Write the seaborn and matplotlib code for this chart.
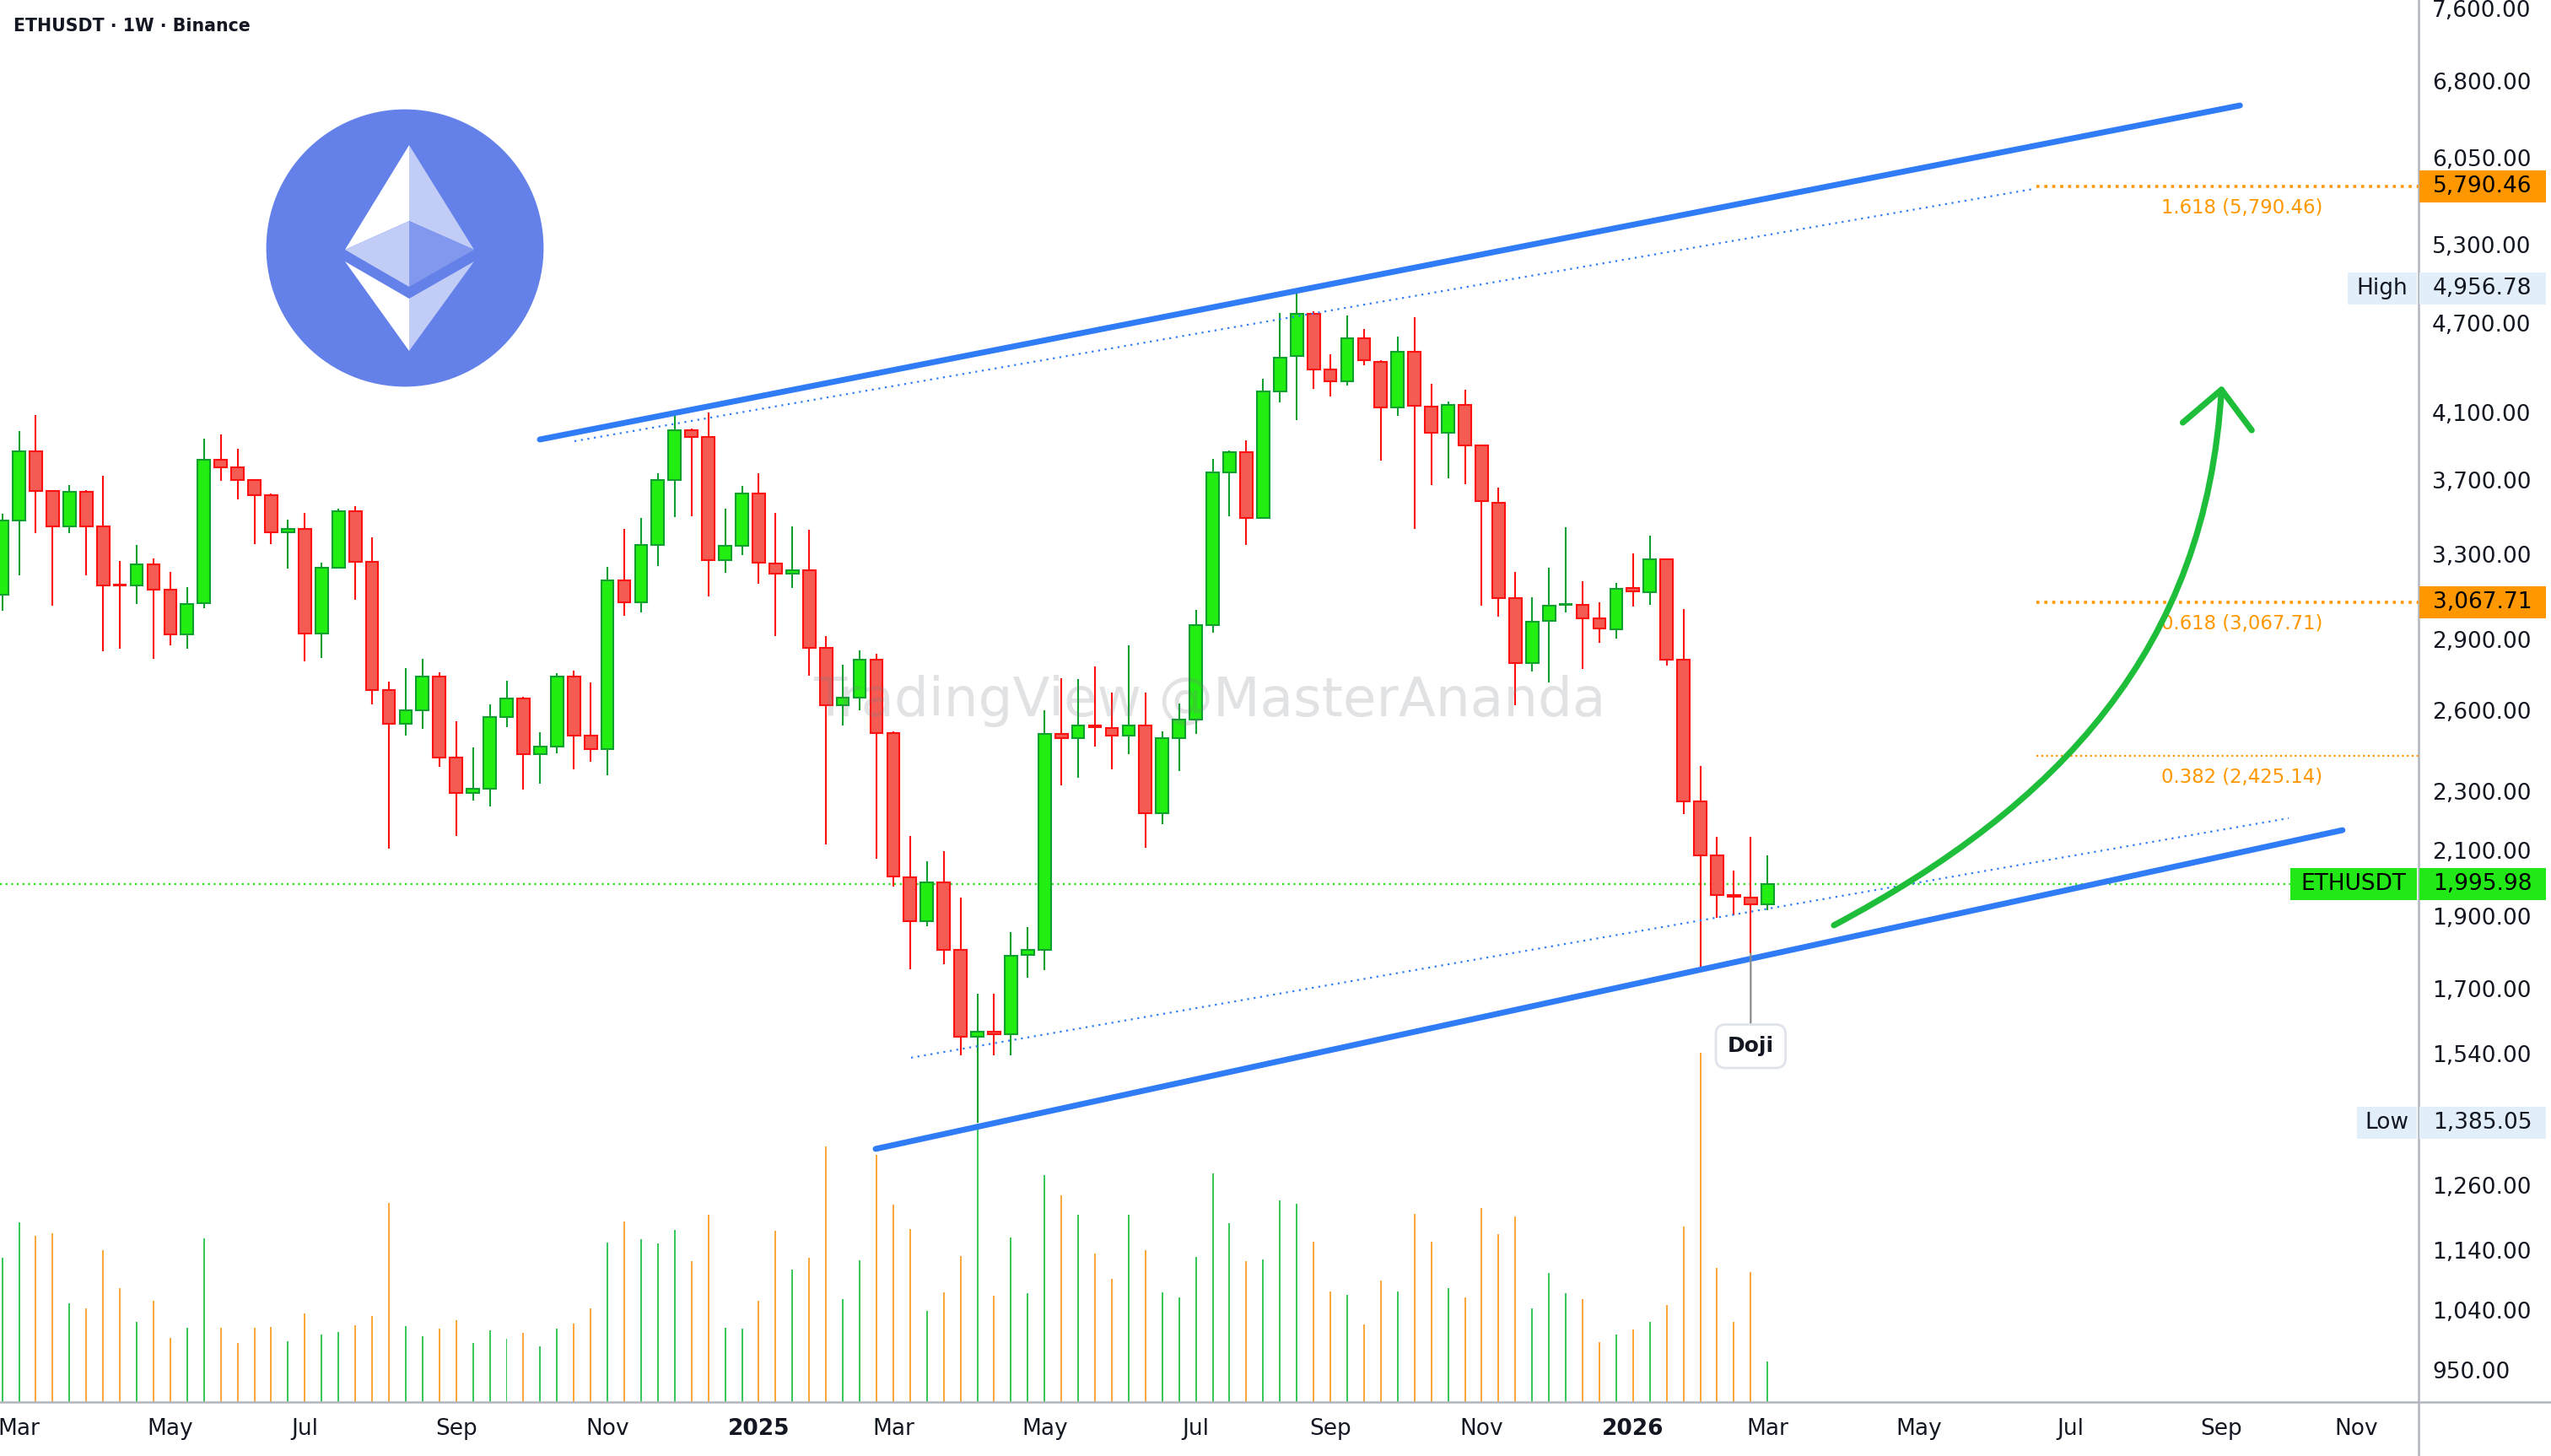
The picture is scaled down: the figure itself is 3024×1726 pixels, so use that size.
import numpy as np
import pandas as pd
import matplotlib
matplotlib.use("Agg")
import matplotlib.pyplot as plt
import seaborn as sns
from matplotlib.patches import Circle, Polygon, Rectangle, PathPatch
from matplotlib.path import Path
from matplotlib.lines import Line2D
from matplotlib.ticker import FixedLocator, FuncFormatter, NullLocator

# ETHUSDT weekly candles, week 0 = 2024-02-26 ... week 105 = 2026-03-02
opens = [3103, 3477, 3864, 3635, 3445, 3633, 3445, 3151, 3147, 3252,
         3127, 2920, 3063, 3815, 3770, 3696, 3614, 3413, 3430, 2925,
         3236, 3524, 3263, 2683, 2547, 2602, 2738, 2421, 2292, 2308,
         2574, 2650, 2432, 2462, 2738, 2502, 2451, 3174, 3068, 3350,
         3696, 3992, 3950, 3272, 3346, 3624, 3257, 3204, 3223, 2860,
         2621, 2653, 2810, 2511, 2015, 1884, 1999, 1804, 1580, 1593,
         1585, 1790, 1805, 2508, 2493, 2543, 2531, 2503, 2540, 2223,
         2492, 2563, 2961, 3742, 3860, 3489, 4235, 4467, 4767, 4376,
         4298, 4590, 4431, 4132, 4500, 4138, 3975, 4145, 3898, 3573,
         3087, 2797, 2982, 3056, 3054, 2992, 2945, 3135, 3117, 3275,
         2809, 2264, 2084, 1961, 1954, 1935]
highs = [3513, 3984, 4083, 3640, 3669, 3640, 3722, 3266, 3348, 3279,
         3212, 3140, 3937, 3965, 3880, 3700, 3624, 3479, 3515, 3258,
         3540, 3554, 3388, 2716, 2773, 2815, 2755, 2559, 2459, 2625,
         2721, 2655, 2516, 2754, 2763, 2715, 3237, 3431, 3490, 3736,
         4077, 4000, 4101, 3539, 3665, 3735, 3516, 3445, 3426, 2913,
         2789, 2850, 2834, 2518, 2147, 2065, 2097, 1953, 1686, 1688,
         1854, 1869, 2602, 2731, 2728, 2782, 2673, 2873, 2673, 2518,
         2629, 3032, 3817, 3868, 3930, 4319, 4775, 4956.78, 4787, 4482,
         4755, 4658, 4438, 4605, 4743, 4284, 4169, 4245, 3904, 3653,
         3213, 3091, 3234, 3440, 3169, 3069, 3161, 3304, 3396, 3280,
         3037, 2389, 2143, 2035, 2144, 2085]
lows = [3030, 3196, 3408, 3050, 3411, 3196, 2845, 2859, 3060, 2813,
        2874, 2856, 3042, 3695, 3592, 3354, 3351, 3231, 2804, 2816,
        3228, 3080, 2626, 2107, 2504, 2530, 2386, 2146, 2267, 2247,
        2534, 2304, 2326, 2437, 2378, 2406, 2354, 3006, 3022, 3244,
        3493, 3500, 3096, 3210, 3296, 3154, 2915, 3137, 2744, 2120,
        2543, 2600, 2074, 1987, 1752, 1870, 1766, 1535, 1385.05, 1535,
        1535, 1730, 1750, 2318, 2345, 2462, 2378, 2434, 2108, 2185,
        2370, 2508, 2928, 3497, 3348, 3486, 4162, 4051, 4249, 4203,
        4270, 4409, 3809, 4078, 3432, 3668, 3707, 3674, 3051, 3002,
        2622, 2761, 2714, 3019, 2770, 2883, 2904, 3049, 3055, 2784,
        2219, 1748, 1894, 1903, 1794, 1917]
closes = [3477, 3864, 3635, 3445, 3633, 3445, 3149, 3147, 3252, 3127,
          2920, 3060, 3815, 3770, 3696, 3614, 3413, 3430, 2925, 3236,
          3524, 3263, 2683, 2547, 2602, 2738, 2421, 2292, 2308, 2574,
          2650, 2432, 2462, 2738, 2502, 2451, 3174, 3068, 3350, 3696,
          3992, 3951, 3272, 3346, 3624, 3259, 3204, 3223, 2862, 2621,
          2653, 2810, 2513, 2018, 1884, 1999, 1805, 1580, 1593, 1585,
          1787, 1803, 2508, 2493, 2543, 2535, 2503, 2540, 2223, 2492,
          2563, 2961, 3742, 3860, 3489, 4235, 4460, 4767, 4380, 4298,
          4590, 4438, 4132, 4500, 4142, 3975, 4145, 3901, 3579, 3089,
          2797, 2980, 3051, 3059, 2994, 2946, 3133, 3119, 3275, 2811,
          2264, 2084, 1961, 1957, 1935, 1995.98]
# weekly volume, thousand ETH
volumes = [3420, 4260, 3940, 4000, 2340, 2220, 3600, 2700, 1900, 2400,
           1520, 1760, 3880, 1760, 1400, 1760, 1780, 1440, 2100, 1600,
           1660, 1820, 2040, 4720, 1800, 1560, 1740, 1940, 1400, 1700,
           1500, 1640, 1320, 1740, 1860, 2220, 3780, 4280, 3860, 3760,
           4080, 3340, 4440, 1760, 1740, 2400, 4060, 3140, 3420, 6060,
           2440, 3360, 5860, 4680, 4100, 2160, 2600, 3460, 6600, 2520,
           3900, 2580, 5380, 4900, 4440, 3520, 2920, 4440, 3600, 2600,
           2480, 3440, 5420, 4240, 3340, 3380, 4780, 4700, 3800, 2620,
           2540, 1840, 2880, 2620, 4460, 3800, 2700, 2480, 4600, 3980,
           4400, 2220, 3060, 2580, 2440, 1420, 1600, 1720, 1900, 2300,
           4160, 8280, 3180, 1900, 3080, 960]

month_weeks = [1, 10, 18, 27, 36, 45, 53, 62, 71, 79, 88, 97, 105, 114, 123, 132, 140]
month_labels = ["Mar", "May", "Jul", "Sep", "Nov", "2025", "Mar", "May", "Jul", "Sep",
                "Nov", "2026", "Mar", "May", "Jul", "Sep", "Nov"]
price_ticks = [7600, 6800, 6050, 5300, 4700, 4100, 3700, 3300, 2900, 2600, 2300,
               2100, 1900, 1700, 1540, 1260, 1140, 1040, 950]

fib_levels = [1.618, 0.618, 0.382]
fib_prices = [5790.46, 3067.71, 2425.14]
fib_start_week = 121

# channel drawings: (week, price) end points
upper_line = ([31.98, 133.1], [3934, 6553])
lower_line = ([51.95, 139.2], [1331, 2166])
upper_dots = ([34.04, 120.8], [3924, 5768])
lower_dots = ([54.06, 136.0], [1530, 2206])
# projected move, cubic curve (start, two controls, tip) and head
arrow_weeks = [108.95, 122.3, 131.1, 132.0]
arrow_prices = [1873, 2249, 2854, 4245]
head_weeks = [129.7, 132.0, 133.8]
head_prices = [4037, 4245, 3990]

# colours
FILL_UP, EDGE_UP = "#22EE11", "#0E9F2E"
FILL_DN, EDGE_DN = "#F45B52", "#FF1010"
VOL_UP, VOL_DN = "#38C95A", "#F9A73E"
BLUE = "#2F7CF6"
ORANGE = "#FF9800"
ARROW_GREEN = "#1EBE3A"
PRICE_GREEN = "#21E816"
TAG_BLUE = "#E3EEFB"
TEXT = "#131722"
AXIS_GRAY = "#B2B5BE"

W, H, DPI = 3024, 1726, 200
PLOT_R, PLOT_B = 2867, 1662
PX_PER_LN = 776.0

sns.set_theme(style="white")
plt.rcParams["font.family"] = ["DejaVu Sans"]

opens, highs, lows, closes = map(np.array, (opens, highs, lows, closes))
weeks = np.arange(len(opens))
up = closes >= opens

fig = plt.figure(figsize=(W / DPI, H / DPI), dpi=DPI)
fig.patch.set_facecolor("white")
ax = fig.add_axes([0, 1 - PLOT_B / H, PLOT_R / W, PLOT_B / H])

# volume in its own overlay (linear), drawn underneath the candles
axv = ax.twinx()
vol_df = pd.DataFrame({"week": weeks, "volume": volumes,
                       "dir": np.where(up, "up", "down")})
sns.barplot(data=vol_df, x="week", y="volume", hue="dir",
            palette={"up": VOL_UP, "down": VOL_DN}, native_scale=True,
            width=0.1, dodge=False, saturation=1, linewidth=0,
            errorbar=None, legend=False, ax=axv)
axv.set_ylim(0, PLOT_B * 20)
axv.set_yticks([])
axv.set_ylabel("")
axv.set_xlabel("")
ax.set_zorder(2)
axv.set_zorder(1)
ax.patch.set_visible(False)

# candles
ax.vlines(weeks, lows, highs, colors=np.where(up, EDGE_UP, EDGE_DN), lw=0.75, zorder=3)
body_lo = np.minimum(opens, closes)
body_hi = np.maximum(opens, closes)
ax.bar(weeks, body_hi - body_lo, bottom=body_lo, width=0.74,
       color=np.where(up, FILL_UP, FILL_DN), edgecolor=np.where(up, EDGE_UP, EDGE_DN),
       linewidth=0.75, zorder=4)

ax.set_yscale("log")
top = 7600 * np.exp(10 / PX_PER_LN)
ax.set_ylim(top * np.exp(-PLOT_B / PX_PER_LN), top)
ax.set_xlim(-2.6 / 19.93, (PLOT_R - 2.6) / 19.93)

# price scale on the right
ax.yaxis.tick_right()
ax.yaxis.set_major_locator(FixedLocator(price_ticks))
ax.yaxis.set_minor_locator(NullLocator())
ax.yaxis.set_major_formatter(FuncFormatter(lambda v, _: f"{v:,.2f}"))
ax.tick_params(axis="y", which="both", length=0, pad=5.8, labelsize=9.5, labelcolor=TEXT)
ax.set_xticks(month_weeks)
ax.set_xticklabels(month_labels)
ax.tick_params(axis="x", length=0, pad=7, labelsize=9.5, labelcolor=TEXT)
for lab in ax.get_xticklabels():
    if lab.get_text().isdigit():
        lab.set_fontweight("bold")
ax.grid(False)
sns.despine(ax=ax, left=True, bottom=True, right=True, top=True)
sns.despine(ax=axv, left=True, bottom=True, right=True, top=True)

# last price line
ax.axhline(closes[-1], color=PRICE_GREEN, lw=0.8, ls=(0, (1, 2)), zorder=2)

# channel
for xs, ps in (upper_line, lower_line):
    ax.plot(xs, ps, color=BLUE, lw=2.5, solid_capstyle="round", zorder=6)
for xs, ps in (upper_dots, lower_dots):
    ax.plot(xs, ps, color=BLUE, lw=0.8, ls=(0, (1, 2.5)), zorder=5)

# fib levels
x_right = ax.get_xlim()[1]
for lvl, p, lw in zip(fib_levels, fib_prices, [1.3, 1.3, 0.8]):
    ax.hlines(p, fib_start_week, x_right, color=ORANGE, lw=lw, ls=(0, (1, 1.6)), zorder=5)
    ax.annotate(f"{lvl:.3f} ({p:,.2f})", xy=(133.2, p), xytext=(0, -9.2),
                textcoords="offset points", ha="center", va="center",
                color=ORANGE, fontsize=8.2, zorder=6)

# projected curve
curve = Path(np.column_stack([arrow_weeks, arrow_prices]),
             [Path.MOVETO, Path.CURVE4, Path.CURVE4, Path.CURVE4])
ax.add_patch(PathPatch(curve, fc="none", ec=ARROW_GREEN, lw=2.6, capstyle="round", zorder=7))
ax.plot(head_weeks, head_prices, color=ARROW_GREEN, lw=2.6,
        solid_capstyle="round", solid_joinstyle="round", zorder=7)

# doji callout
ax.annotate("Doji", xy=(104, lows[104]), xytext=(104, 1557), ha="center", va="center",
            fontsize=9, fontweight="bold", color=TEXT,
            bbox=dict(boxstyle="round,pad=0.55,rounding_size=0.45", fc="white", ec="#E0E3EB", lw=1),
            arrowprops=dict(arrowstyle="-", color="#8A8A8A", lw=0.8, shrinkA=0, shrinkB=0),
            zorder=8)

# watermark
ax.text(0.5, 0.5, "TradingView @MasterAnanda", transform=ax.transAxes, ha="center",
        va="center", fontsize=23.2, color="#787B86", alpha=0.22, zorder=9)

# axis borders
fig.add_artist(Line2D([PLOT_R / W] * 2, [0, 1], transform=fig.transFigure, color=AXIS_GRAY, lw=0.9))
fig.add_artist(Line2D([0, 1], [1 - PLOT_B / H] * 2, transform=fig.transFigure, color=AXIS_GRAY, lw=0.9))

# price tags on the scale
pax = fig.add_axes([2700 / W, 1 - PLOT_B / H, 324 / W, PLOT_B / H], sharey=ax, zorder=5)
pax.set_xlim(2700, W)
pax.axis("off")
half = np.exp(19 / PX_PER_LN)


def tag(price, x0, x1, fc, text, color, centered=False):
    pax.add_patch(Rectangle((x0, price / half), x1 - x0, price * half - price / half,
                            fc=fc, ec="none", clip_on=False))
    if centered:
        pax.text((x0 + x1) / 2, price, text, ha="center", va="center",
                 fontsize=9.5, color=color, clip_on=False)
    else:
        pax.text(2884, price, text, ha="left", va="center", fontsize=9.5,
                 color=color, clip_on=False)


tag(fib_prices[0], 2868, 3018, ORANGE, f"{fib_prices[0]:,.2f}", "black")
tag(fib_prices[1], 2868, 3018, ORANGE, f"{fib_prices[1]:,.2f}", "black")
tag(max(highs), 2783, 2865, TAG_BLUE, "High", TEXT, centered=True)
tag(max(highs), 2868, 3018, TAG_BLUE, f"{max(highs):,.2f}", TEXT)
tag(closes[-1], 2715, 2865, PRICE_GREEN, "ETHUSDT", "black", centered=True)
tag(closes[-1], 2868, 3018, PRICE_GREEN, f"{closes[-1]:,.2f}", "black")
tag(min(lows), 2794, 2865, TAG_BLUE, "Low", TEXT, centered=True)
tag(min(lows), 2868, 3018, TAG_BLUE, f"{min(lows):,.2f}", TEXT)

# header and coin logo (pixel layout)
fig.text(16 / W, 1 - 31 / H, "ETHUSDT · 1W · Binance", ha="left", va="center",
         fontsize=7.4, fontweight="bold", color=TEXT)
lax = fig.add_axes([0, 0, 1, 1], zorder=6)
lax.set_xlim(0, W)
lax.set_ylim(H, 0)
lax.axis("off")
lax.add_patch(Circle((480, 294), 163, color="#6481EA"))
facets = [
    ([(485, 172), (409, 296), (485, 262)], "white"),
    ([(485, 172), (485, 262), (562, 296)], "#C1CCF7"),
    ([(409, 296), (485, 262), (485, 340)], "#C1CCF7"),
    ([(485, 262), (562, 296), (485, 340)], "#8298EE"),
    ([(409, 310), (485, 354), (485, 416)], "white"),
    ([(485, 354), (562, 310), (485, 416)], "#C1CCF7"),
]
for pts, c in facets:
    lax.add_patch(Polygon(pts, closed=True, fc=c, ec="none"))

fig.savefig("out.png", dpi=DPI)
